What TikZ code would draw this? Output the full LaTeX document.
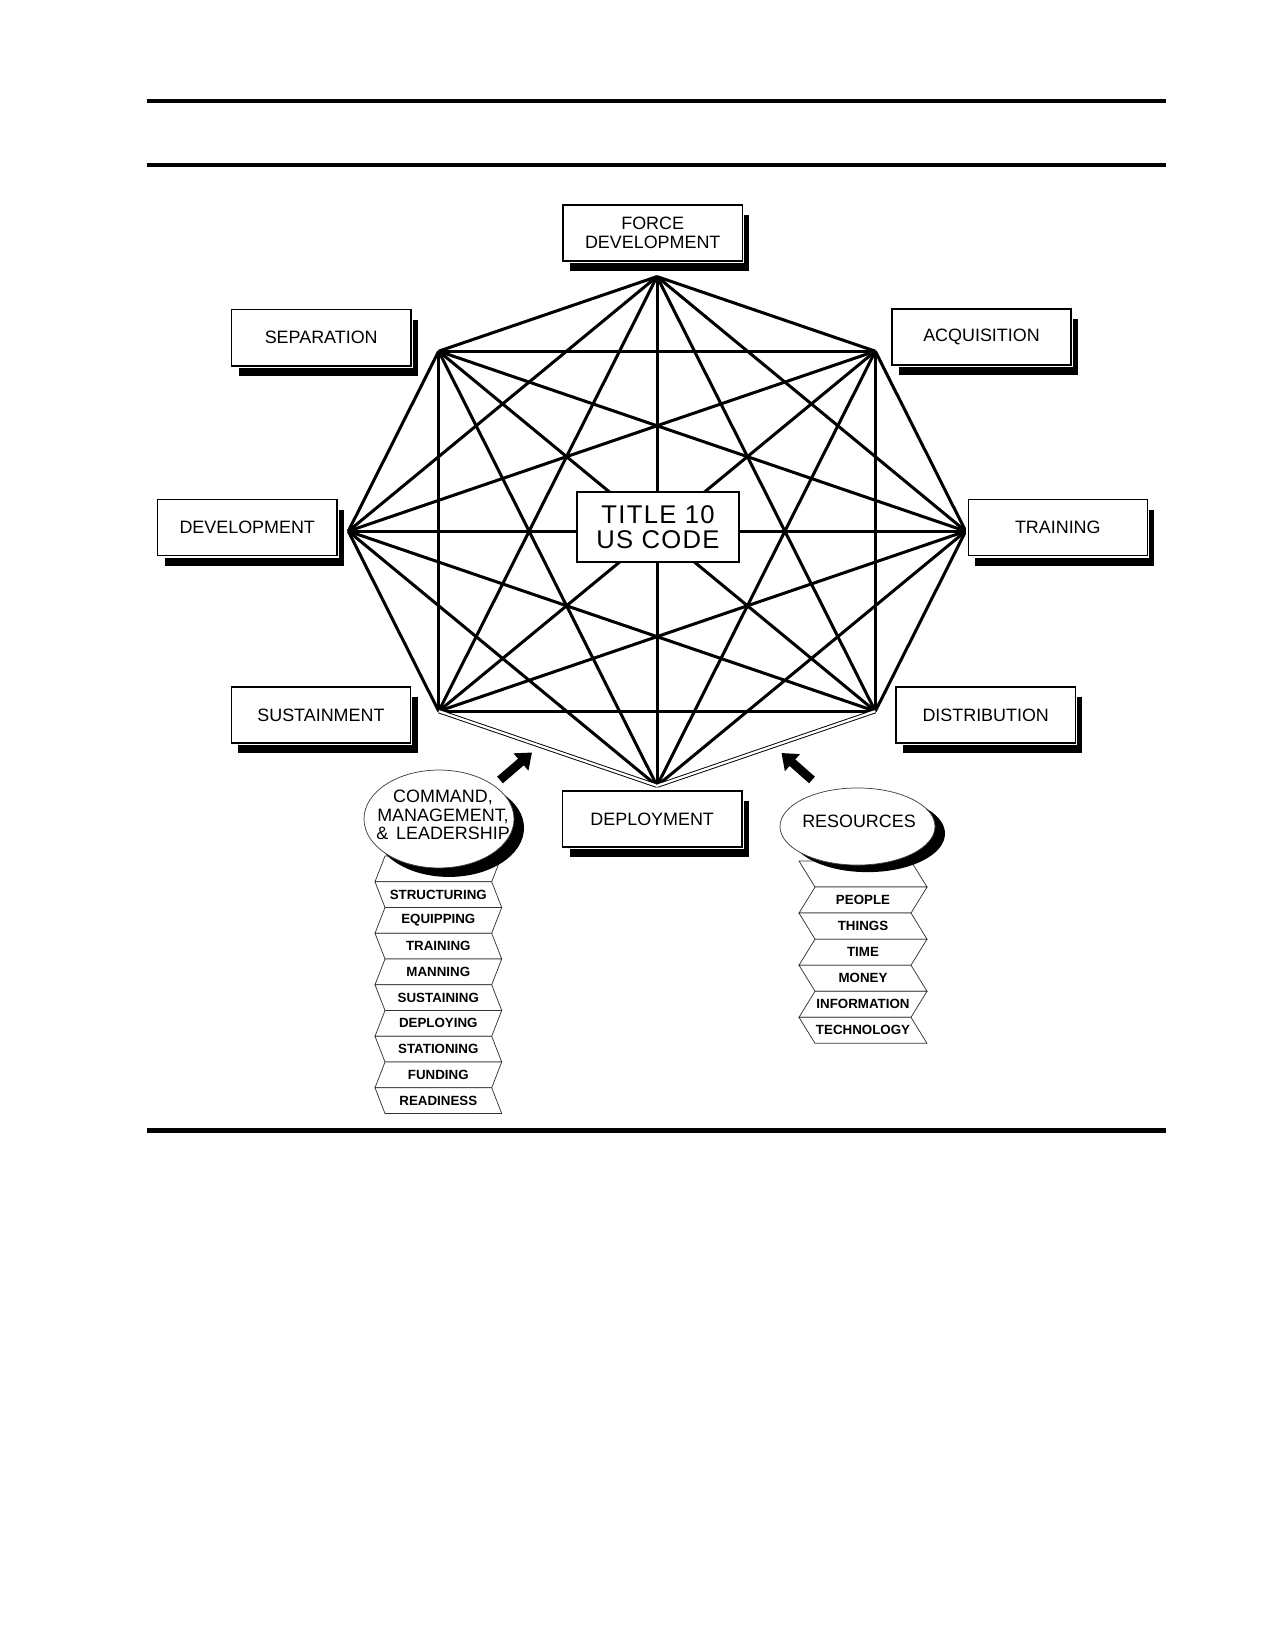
\documentclass[tikz,border=0pt]{standalone}
\usepackage{fontspec}
\setmainfont{Liberation Sans}
\newfontfamily\titlefont[LetterSpace=5]{Liberation Sans}
\usetikzlibrary{shapes.geometric,arrows.meta,shadows,calc}
\begin{document}
\begin{tikzpicture}[x=0.48pt,y=-0.48pt,
  unitbox/.style={rectangle, draw=black, line width=0.7pt, fill=white,
    minimum width=86pt, minimum height=27pt, inner sep=0pt, align=center,
    font=\fontsize{8.6}{9.3}\selectfont,
    drop shadow={shadow xshift=3.4pt, shadow yshift=-4.9pt, fill=black, opacity=1},
    preaction={draw=white, line width=1.8pt}},
  titlebox/.style={rectangle, draw=black, line width=0.9pt, fill=white,
    minimum width=77.6pt, minimum height=34pt, inner sep=0pt, align=center,
    font=\titlefont\fontsize{12.3}{11.7}\selectfont},
  octline/.style={line width=1.45pt},
  dblline/.style={line width=0.45pt, double=white, double distance=1.1pt},
  ellbox/.style={ellipse, draw=black!75, line width=0.35pt, fill=white, inner sep=0pt},
  elltext/.style={align=center, inner sep=0pt, font=\fontsize{8.6}{8.8}\selectfont},
  band/.style={draw=black!80, line width=0.35pt, fill=white},
  stacktext/.style={inner sep=0pt, font=\bfseries\fontsize{6.4}{7}\selectfont},
  blockarrow/.style={line width=4.2pt, -{Triangle[length=7pt, width=10.5pt]}},
  rulethin/.style={line width=1.6pt},
  rulethick/.style={line width=2.1pt}
]
\useasboundingbox (0,0) rectangle (1275,1650);

% page rules
\draw[rulethin] (147,101) -- (1166,101);
\draw[rulethick] (147,165) -- (1166,165);
\draw[rulethick] (147,1130.5) -- (1166,1130.5);

% octagon vertices
\coordinate (v0) at (657,276.6);
\coordinate (v1) at (875.3,351.2);
\coordinate (v2) at (965.7,531.2);
\coordinate (v3) at (875.3,711.2);
\coordinate (v4) at (657,785.8);
\coordinate (v5) at (438.7,711.2);
\coordinate (v6) at (348.3,531.2);
\coordinate (v7) at (438.7,351.2);

% all connections
\foreach \i in {0,...,6}{
  \pgfmathtruncatemacro{\st}{\i+1}
  \foreach \j in {\st,...,7}{
    \pgfmathtruncatemacro{\code}{10*\i+\j}
    \ifnum\code=34\relax\else\ifnum\code=45\relax\else
      \draw[octline] (v\i) -- (v\j);
    \fi\fi
  }
}
\draw[dblline] (v5) -- (v4);
\draw[dblline] (v4) -- (v3);

% center
\node[titlebox] (title) at (658,527) {TITLE 10\\US CODE};

% function boxes
\node[unitbox] (forcedev) at (652.7,233) {FORCE\\DEVELOPMENT};
\node[unitbox] (separation) at (321.2,337.7) {SEPARATION};
\node[unitbox] (acquisition) at (981.5,337) {ACQUISITION};
\node[unitbox] (development) at (247.2,527.6) {DEVELOPMENT};
\node[unitbox] (training) at (1057.8,527.6) {TRAINING};
\node[unitbox] (sustainment) at (320.9,714.9) {SUSTAINMENT};
\node[unitbox] (distribution) at (985.7,714.9) {DISTRIBUTION};
\node[unitbox] (deployment) at (652.2,819) {DEPLOYMENT};

% CMD stack
\foreach \k in {0,...,9}{
  \pgfmathtruncatemacro{\p}{mod(\k,2)}
  \pgfmathsetmacro{\ya}{856+25.75*\k}
  \pgfmathsetmacro{\yb}{856+25.75*(\k+1)}
  \pgfmathsetmacro{\la}{385-10*\p}
  \pgfmathsetmacro{\lb}{375+10*\p}
  \pgfmathsetmacro{\ra}{501.7-10*\p}
  \pgfmathsetmacro{\rb}{491.7+10*\p}
  \filldraw[band] (\la,\ya) -- (\ra,\ya) -- (\rb,\yb) -- (\lb,\yb) -- cycle;
}
\foreach \t [count=\n] in {STRUCTURING,EQUIPPING,TRAINING,MANNING,SUSTAINING,DEPLOYING,STATIONING,FUNDING,READINESS}{
  \node[stacktext] (cmd\n) at (438.3,{856+25.75*(\n+0.5)}) {\t};
}

% Resources stack
\foreach \k in {0,...,6}{
  \pgfmathtruncatemacro{\p}{mod(\k,2)}
  \pgfmathsetmacro{\ya}{861+26.05*\k}
  \pgfmathsetmacro{\yb}{861+26.05*(\k+1)}
  \pgfmathsetmacro{\la}{799+16*\p}
  \pgfmathsetmacro{\lb}{815-16*\p}
  \pgfmathsetmacro{\ra}{911+16*\p}
  \pgfmathsetmacro{\rb}{927-16*\p}
  \filldraw[band] (\la,\ya) -- (\ra,\ya) -- (\rb,\yb) -- (\lb,\yb) -- cycle;
}
\foreach \t [count=\n] in {PEOPLE,THINGS,TIME,MONEY,INFORMATION,TECHNOLOGY}{
  \node[stacktext] (res\n) at (863,{861+26.05*(\n+0.5)}) {\t};
}

% ellipses
\node[ellbox, minimum width=72pt, minimum height=47pt,
  drop shadow={shadow xshift=4.8pt, shadow yshift=-4.3pt, fill=black, opacity=1}]
  (cmdell) at (439,819) {};
\node[elltext] (cmdtext) at (443,815) {COMMAND,\\MANAGEMENT,\\\& \,LEADERSHIP};
\node[ellbox, minimum width=74.4pt, minimum height=37pt,
  drop shadow={shadow xshift=4.8pt, shadow yshift=-3.4pt, fill=black, opacity=1}]
  (resell) at (857.5,826.5) {};
\node[elltext] (restext) at (859,821) {RESOURCES};

% arrows
\coordinate (la0) at (500,780);
\coordinate (la1) at (532,752.5);
\coordinate (ra0) at (812,780);
\coordinate (ra1) at (781.5,753);
\draw[blockarrow] (la0) -- (la1);
\draw[blockarrow] (ra0) -- (ra1);
\end{tikzpicture}
\end{document}
